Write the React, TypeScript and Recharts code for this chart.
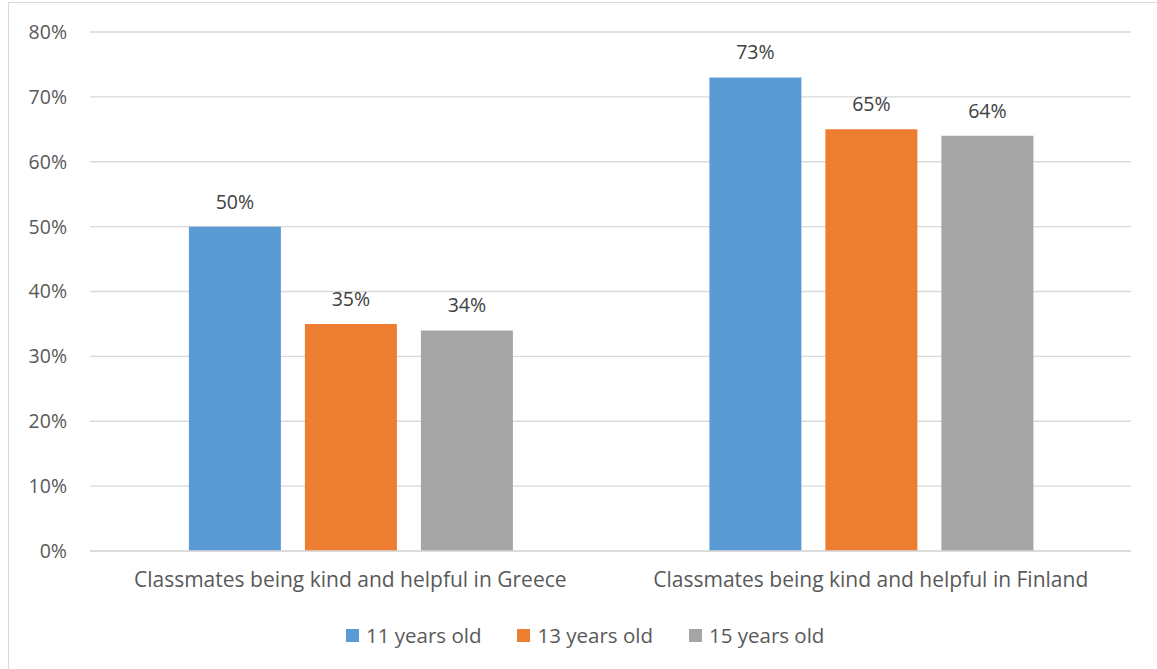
import React from "react";
import { BarChart, Bar, XAxis, YAxis, CartesianGrid, LabelList } from "recharts";

const categories = [
  "Classmates being kind and helpful in Greece",
  "Classmates being kind and helpful in Finland",
];
const age11 = [50, 73];
const age13 = [35, 65];
const age15 = [34, 64];
const seriesNames = ["11 years old", "13 years old", "15 years old"];
const yTicks = [0, 10, 20, 30, 40, 50, 60, 70, 80];
const colors = ["#5B9BD5", "#ED7D31", "#A5A5A5"];

const data = categories.map((c, i) => ({ name: c, a: age11[i], b: age13[i], c: age15[i] }));
const keys = ["a", "b", "c"];

const FONT = "'Open Sans', sans-serif";
const FS = 20.5;

export default function App() {
  return (
    <div style={{ position: "absolute", left: 0, top: 0, width: 1157, height: 669, overflow: "hidden", background: "#fff" }}>
      <div style={{ position: "absolute", left: 8, top: 2, width: 1200, height: 700, border: "1px solid #d9d9d9" }} />
      <BarChart
        width={1157}
        height={669}
        data={data}
        margin={{ top: 32, right: 26, left: 0, bottom: 88 }}
        barCategoryGap="19%"
        barGap={24}
        style={{ position: "absolute", left: 0, top: 0 }}
      >
        <CartesianGrid vertical={false} stroke="#d9d9d9" strokeWidth={1.3} />
        <XAxis
          dataKey="name"
          axisLine={{ stroke: "#d9d9d9", strokeWidth: 1.3 }}
          tickLine={false}
          tickSize={0}
          tickMargin={21}
          tick={{ fill: "#595959", fontSize: 21, fontFamily: FONT }}
          height={30}
        />
        <YAxis
          width={90}
          domain={[0, 80]}
          ticks={yTicks}
          tickFormatter={(v) => `${v}%`}
          axisLine={false}
          tickLine={false}
          tickSize={0}
          tickMargin={23}
          tick={{ fill: "#595959", fontSize: FS - 1, fontFamily: FONT }}
        />
        {keys.map((k, i) => (
          <Bar key={k} dataKey={k} name={seriesNames[i]} fill={colors[i]} isAnimationActive={false}>
            <LabelList
              dataKey={k}
              position="top"
              offset={18}
              formatter={(v: number) => `${v}%`}
              style={{ fill: "#404040", fontSize: FS - 1, fontFamily: FONT }}
            />
          </Bar>
        ))}
      </BarChart>
      <div style={{ position: "absolute", left: 346, top: 621, display: "flex", gap: 36, fontFamily: FONT, fontSize: FS, lineHeight: "28px", color: "#595959" }}>
        {seriesNames.map((n, i) => (
          <div key={n} style={{ display: "flex", alignItems: "center" }}>
            <span style={{ width: 13, height: 13, background: colors[i], display: "inline-block", marginRight: 7 }} />
            <span>{n}</span>
          </div>
        ))}
      </div>
    </div>
  );
}
